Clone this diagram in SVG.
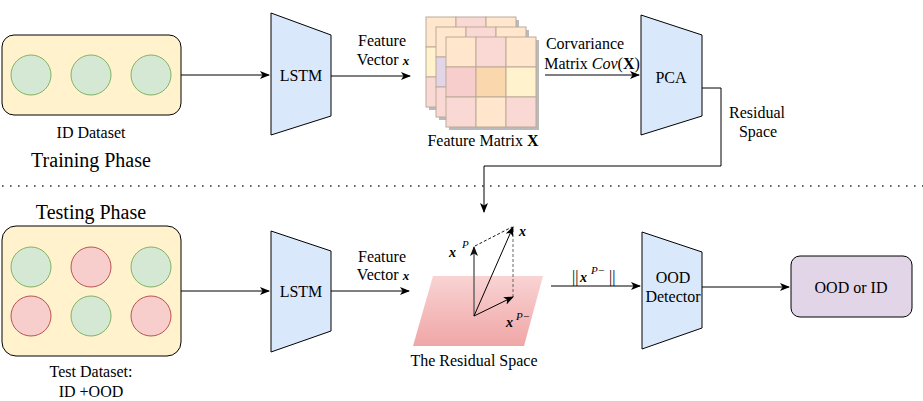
<svg xmlns="http://www.w3.org/2000/svg" width="923" height="401" viewBox="0 0 923 401" font-family="'Liberation Serif', 'DejaVu Serif', 'Times New Roman', serif">
<defs>
<style>
text{font-family:'Liberation Serif','DejaVu Serif','Times New Roman',serif;}
.t{font-size:16px;fill:#000;}
.ph{font-size:20px;fill:#000;}
.m{font-style:italic;font-weight:bold;fill:#000;}
.sup{font-style:italic;font-size:11px;fill:#000;}
.box{fill:#fff2cc;stroke:#000;stroke-width:1;}
.g{fill:#d5e8d4;stroke:#82b366;stroke-width:1;}
.r{fill:#f8cecc;stroke:#b85450;stroke-width:1;}
.trap{fill:#dae8fc;stroke:#000;stroke-width:1;}
.ln{fill:none;stroke:#000;stroke-width:1;}
.cell{stroke:#bcaa98;stroke-width:1;}
.c1{fill:#ffe6cc;}.c2{fill:#fad9d5;}.c3{fill:#fff2cc;}.c4{fill:#e1d5e7;}.c5{fill:#f8cecc;}.c6{fill:#fad7ac;}
.sh{fill:#8c8c8c;opacity:0.6;}
</style>
<marker id="ah" markerUnits="userSpaceOnUse" markerWidth="10" markerHeight="8" refX="9" refY="4" orient="auto">
<path d="M0,0 L10,4 L0,8 L2.5,4 z" fill="#000"/>
</marker>
<marker id="ahg" markerUnits="userSpaceOnUse" markerWidth="10" markerHeight="8" refX="9" refY="4" orient="auto">
<path d="M0,0 L10,4 L0,8 L2.5,4 z" fill="#111"/>
</marker>
<linearGradient id="pink" x1="0" y1="0" x2="0" y2="1">
<stop offset="0" stop-color="#f9d3d3"/>
<stop offset="1" stop-color="#f0a6a6"/>
</linearGradient>
</defs>

<!-- connectors -->
<g id="connectors">
<path class="ln" d="M181,75 L269,75" marker-end="url(#ah)"/>
<path class="ln" d="M331,76 L410,76" marker-end="url(#ah)"/>
<path class="ln" d="M545,75 L639,75" marker-end="url(#ah)"/>
<path class="ln" d="M702,88 L721,88 L721,166 L484,166 L484,212" marker-end="url(#ah)"/>
<path class="ln" d="M181,291 L269,291" marker-end="url(#ah)"/>
<path class="ln" d="M331,291 L409,291" marker-end="url(#ah)"/>
<path class="ln" d="M551,286 L640,286" marker-end="url(#ah)"/>
<path class="ln" d="M702,287 L789,287" marker-end="url(#ah)"/>
<line x1="2" y1="186" x2="923" y2="186" stroke="#333" stroke-width="1.6" stroke-dasharray="1.6 6.4"/>
</g>

<!-- connector labels -->
<g id="labels">
<text class="t" x="382" y="46" text-anchor="middle">Feature</text>
<text class="t" x="383" y="65" text-anchor="middle">Vector <tspan class="m" font-size="13">x</tspan></text>
<text class="t" x="585" y="49" text-anchor="middle">Corvariance</text>
<text class="t" x="592" y="69" text-anchor="middle">Matrix <tspan font-style="italic">Cov</tspan>(<tspan font-weight="bold">X</tspan>)</text>
<text class="t" x="757" y="118" text-anchor="middle">Residual</text>
<text class="t" x="758" y="137" text-anchor="middle">Space</text>
<text class="t" x="382" y="262" text-anchor="middle">Feature</text>
<text class="t" x="383" y="280" text-anchor="middle">Vector <tspan class="m" font-size="13">x</tspan></text>
<text class="t" x="572" y="282" font-size="17">||</text>
<text class="m" x="580" y="282" font-size="14">x</text>
<text class="sup" x="591" y="274">P−</text>
<text class="t" x="609" y="282" font-size="17">||</text>
<text class="ph" x="91" y="167" text-anchor="middle">Training Phase</text>
<text class="ph" x="91" y="219" text-anchor="middle">Testing Phase</text>
</g>

<!-- ID dataset -->
<g id="id-dataset">
<rect class="box" x="2" y="35" width="179" height="80" rx="12"/>
<circle class="g" cx="31" cy="75" r="20"/>
<circle class="g" cx="91" cy="75" r="20"/>
<circle class="g" cx="151" cy="75" r="20"/>
<text class="t" x="91" y="138" text-anchor="middle">ID Dataset</text>
</g>

<g id="lstm-train">
<path class="trap" d="M271,13 L331,35 L331,116 L271,135 Z"/>
<text class="t" x="301" y="81" text-anchor="middle">LSTM</text>
</g>

<g id="feature-matrix">
<rect class="sh" x="429" y="20" width="90" height="90"/>
<g transform="translate(426,17)">
<rect class="cell c1" x="0" y="0" width="30" height="30"/><rect class="cell c2" x="30" y="0" width="30" height="30"/><rect class="cell c1" x="60" y="0" width="30" height="30"/>
<rect class="cell c3" x="0" y="30" width="30" height="30"/><rect class="cell c1" x="30" y="30" width="30" height="30"/><rect class="cell c1" x="60" y="30" width="30" height="30"/>
<rect class="cell c2" x="0" y="60" width="30" height="30"/><rect class="cell c2" x="30" y="60" width="30" height="30"/><rect class="cell c2" x="60" y="60" width="30" height="30"/>
</g>
<rect class="sh" x="439" y="30" width="90" height="90"/>
<g transform="translate(436,27)">
<rect class="cell c1" x="0" y="0" width="30" height="30"/><rect class="cell c2" x="30" y="0" width="30" height="30"/><rect class="cell c1" x="60" y="0" width="30" height="30"/>
<rect class="cell c4" x="0" y="30" width="30" height="30"/><rect class="cell c1" x="30" y="30" width="30" height="30"/><rect class="cell c1" x="60" y="30" width="30" height="30"/>
<rect class="cell c2" x="0" y="60" width="30" height="30"/><rect class="cell c2" x="30" y="60" width="30" height="30"/><rect class="cell c2" x="60" y="60" width="30" height="30"/>
</g>
<rect class="sh" x="449" y="40" width="90" height="90"/>
<g transform="translate(446,37)">
<rect class="cell c1" x="0" y="0" width="30" height="30"/><rect class="cell c2" x="30" y="0" width="30" height="30"/><rect class="cell c1" x="60" y="0" width="30" height="30"/>
<rect class="cell c5" x="0" y="30" width="30" height="30"/><rect class="cell c6" x="30" y="30" width="30" height="30"/><rect class="cell c3" x="60" y="30" width="30" height="30"/>
<rect class="cell c2" x="0" y="60" width="30" height="30"/><rect class="cell c1" x="30" y="60" width="30" height="30"/><rect class="cell c2" x="60" y="60" width="30" height="30"/>
</g>
<text class="t" x="483" y="146" text-anchor="middle">Feature Matrix <tspan font-weight="bold">X</tspan></text>
</g>

<g id="pca">
<path class="trap" d="M641,15 L702,35 L702,116 L641,135 Z"/>
<text class="t" x="671" y="83" text-anchor="middle">PCA</text>
</g>

<!-- test dataset -->
<g id="test-dataset">
<rect class="box" x="2" y="226" width="179" height="130" rx="14"/>
<circle class="g" cx="31" cy="267" r="20"/>
<circle class="r" cx="91" cy="267" r="20"/>
<circle class="g" cx="151" cy="267" r="20"/>
<circle class="r" cx="31" cy="316" r="20"/>
<circle class="g" cx="91" cy="316" r="20"/>
<circle class="r" cx="151" cy="316" r="20"/>
<text class="t" x="91" y="377" text-anchor="middle">Test Dataset:</text>
<text class="t" x="91" y="397" text-anchor="middle">ID +OOD</text>
</g>

<g id="lstm-test">
<path class="trap" d="M271,231 L331,251 L331,331 L271,352 Z"/>
<text class="t" x="301" y="297" text-anchor="middle">LSTM</text>
</g>

<g id="residual-space">
<path d="M433,276 L543,276 L524,346 L413,346 Z" fill="url(#pink)"/>
<path d="M475,246 L512,227" fill="none" stroke="#000" stroke-width="0.9" stroke-dasharray="3 2"/>
<path d="M513,229 L513,297" fill="none" stroke="#555" stroke-width="0.9" stroke-dasharray="3 2"/>
<path d="M474,316 L474,247" fill="none" stroke="#666" stroke-width="1.5" marker-end="url(#ahg)"/>
<path d="M474,316 L513,227" fill="none" stroke="#000" stroke-width="1" marker-end="url(#ah)"/>
<path d="M474,316 L513,297" fill="none" stroke="#000" stroke-width="1" marker-end="url(#ah)"/>
<text class="m" x="519" y="236" font-size="14">x</text>
<text class="m" x="449" y="257" font-size="14">x</text>
<text class="sup" x="462" y="248">P</text>
<text class="m" x="506" y="327" font-size="14">x</text>
<text class="sup" x="516" y="320">P−</text>
<text class="t" x="474" y="366" text-anchor="middle">The Residual Space</text>
</g>

<g id="ood-detector">
<path class="trap" d="M642,232 L702,252 L702,328 L642,349 Z"/>
<text class="t" x="673" y="283" text-anchor="middle">OOD</text>
<text class="t" x="673" y="302" text-anchor="middle">Detector</text>
</g>

<g id="result">
<rect x="791" y="256" width="121" height="61" rx="9" fill="#e1d5e7" stroke="#000" stroke-width="1"/>
<text class="t" x="851" y="293" text-anchor="middle">OOD or ID</text>
</g>
</svg>
